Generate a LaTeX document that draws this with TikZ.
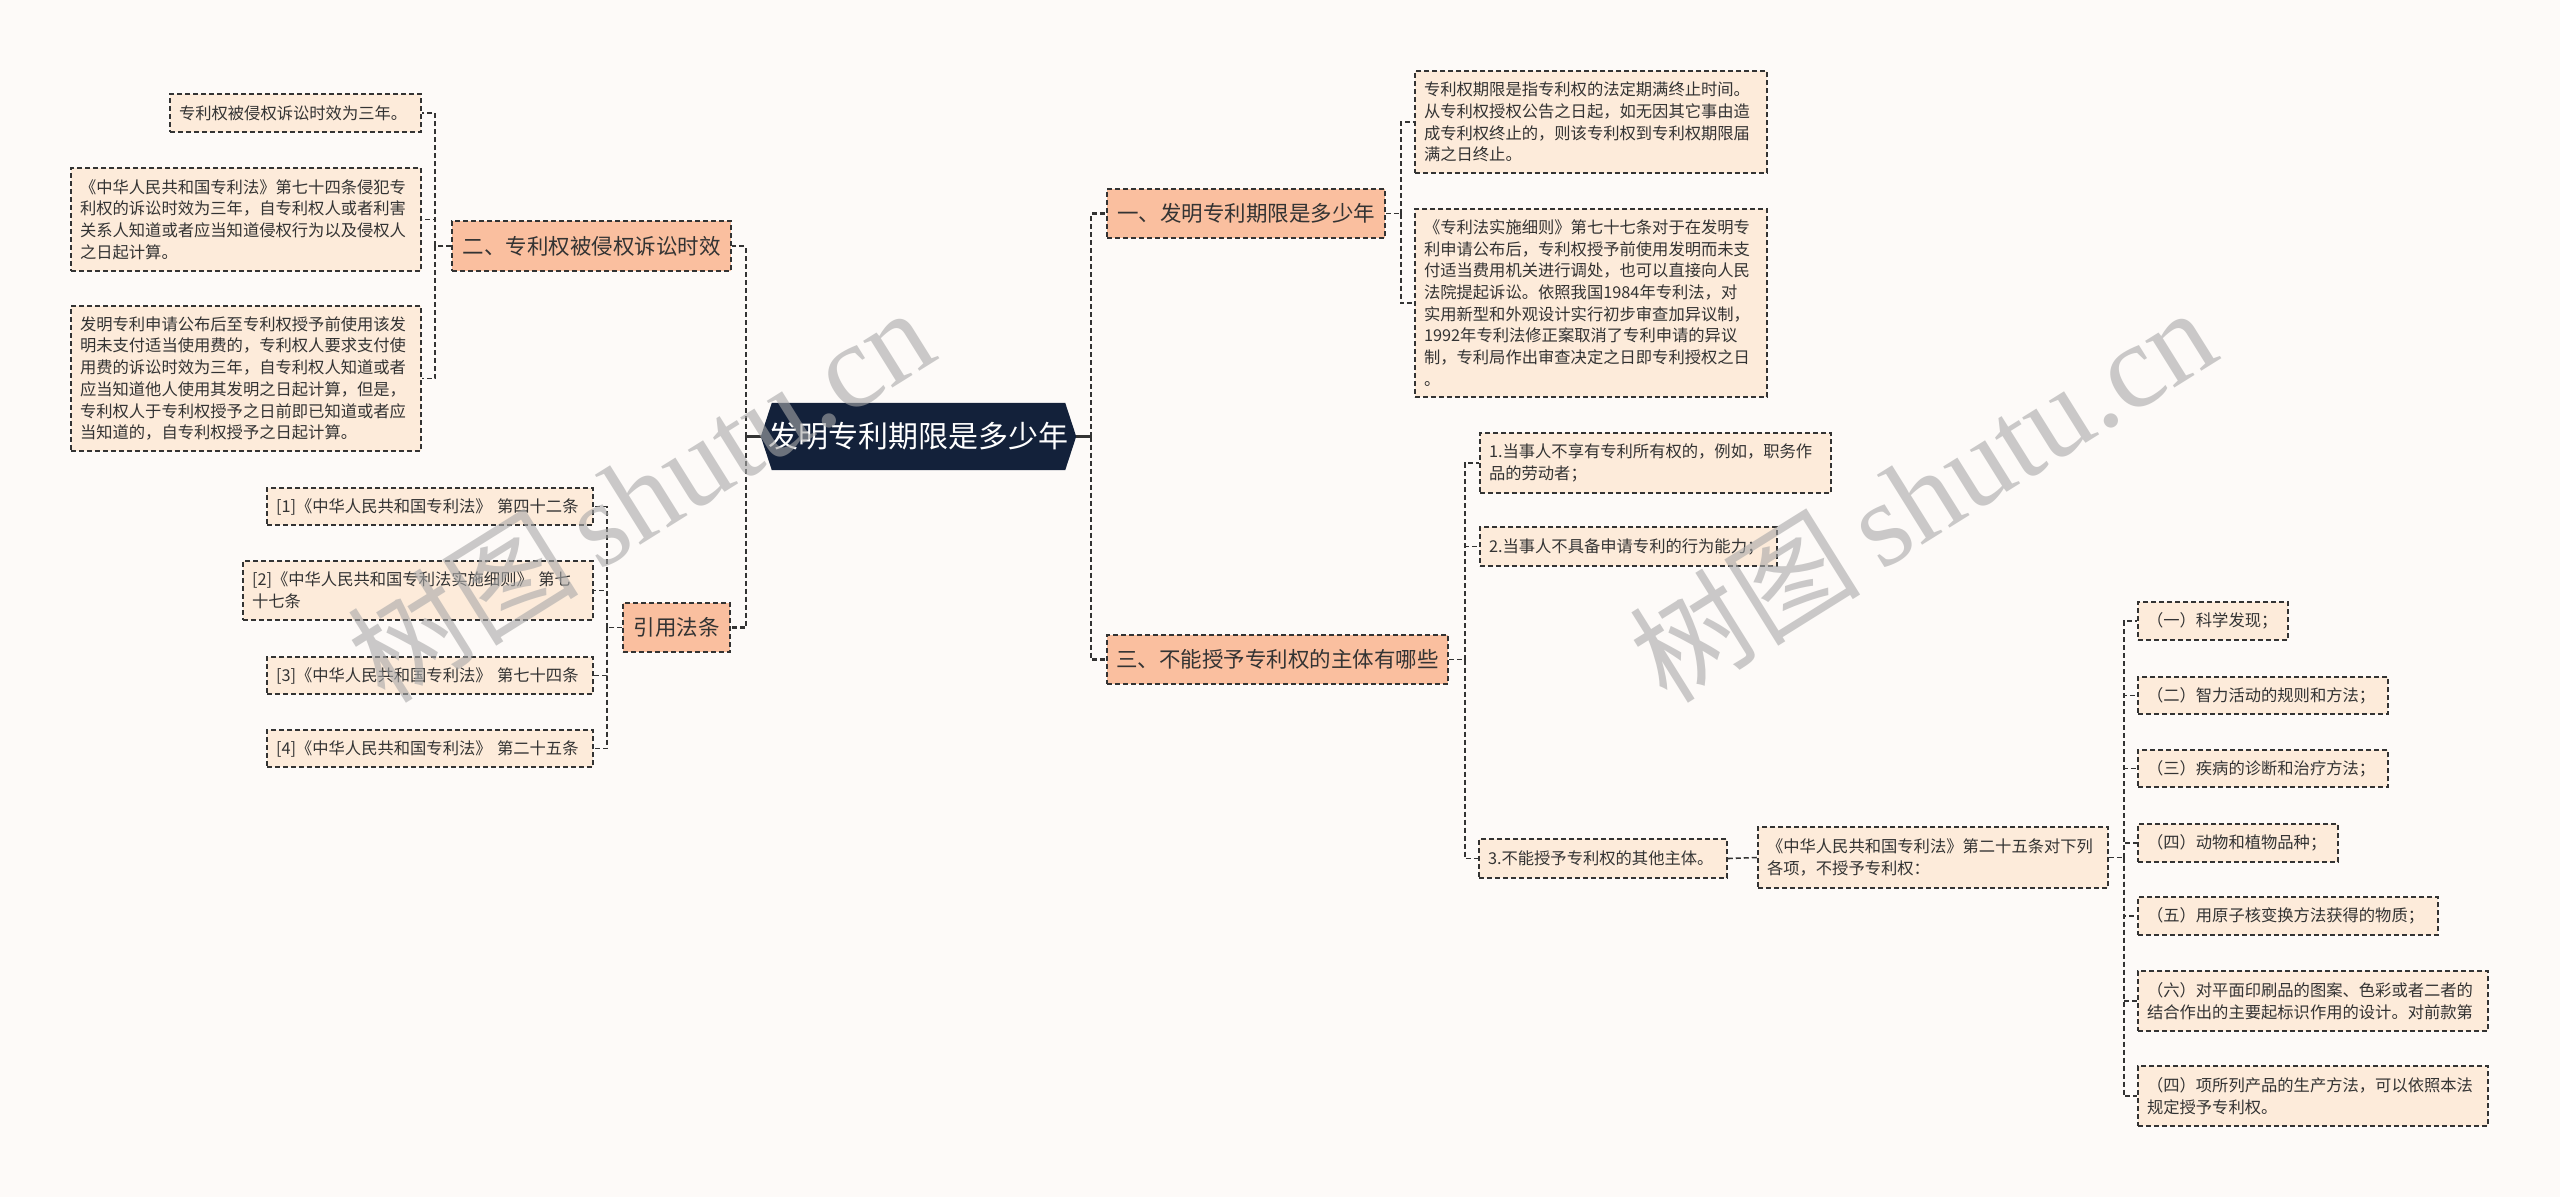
\documentclass[tikz,border=0pt]{standalone}
\usepackage{fontspec}
\setmainfont{Noto Sans CJK SC}
\newfontfamily\wmserif{Liberation Serif}
\usetikzlibrary{backgrounds}
\definecolor{bgc}{HTML}{FDFAF8}
\definecolor{navy}{HTML}{13213A}
\definecolor{peach}{HTML}{FABF9F}
\definecolor{cream}{HTML}{FDEBDA}
\definecolor{ink}{HTML}{333333}
\definecolor{wmc}{HTML}{A8A8A8}
\begin{document}
\begin{tikzpicture}[x=1pt,y=-1pt,
  box/.style={draw=ink, line width=1.5pt, dash pattern=on 5pt off 3pt, inner xsep=9pt, inner ysep=2pt, text=ink},
  leaf/.style={box, fill=cream, align=left, font=\fontsize{16.3}{21.7}\selectfont},
  topic/.style={box, fill=peach, align=center, font=\fontsize{21.5}{26}\selectfont},
  rootnode/.style={text=white, inner sep=0pt, minimum width=315pt, minimum height=67pt, font=\fontsize{30}{36}\selectfont},
  conn/.style={draw=ink, line width=1.6pt, dash pattern=on 5pt off 3pt},
  mainconn/.style={draw=ink, line width=2.2pt, dash pattern=on 5pt off 3pt},
  rootstub/.style={draw=ink, line width=2.2pt},
  wmark/.style={text=wmc, opacity=0.6, rotate=32, inner sep=0pt}
]
\useasboundingbox (0,0) rectangle (2560,1197);

% root
\node[rootnode] (root) at (918.5,436.5) {发明专利期限是多少年};

% level 1
\node[topic, text width=261pt, minimum height=50pt] (B) at (591.5,246) {二、专利权被侵权诉讼时效};
\node[topic, text width=89pt, minimum height=49pt] (D) at (676.5,627.5) {引用法条};
\node[topic, text width=260pt, minimum height=49pt] (E) at (1246,213.5) {一、发明专利期限是多少年};
\node[topic, text width=323pt, minimum height=49pt] (G) at (1277.5,659.5) {三、不能授予专利权的主体有哪些};

% left leaves
\node[leaf, text width=233pt, minimum height=38pt] (A1) at (295.5,113) {专利权被侵权诉讼时效为三年。};
\node[leaf, text width=332pt, minimum height=103pt] (A2) at (246,219.5) {《中华人民共和国专利法》第七十四条侵犯专\\利权的诉讼时效为三年，自专利权人或者利害\\关系人知道或者应当知道侵权行为以及侵权人\\之日起计算。};
\node[leaf, text width=332pt, minimum height=145pt] (A3) at (246,378.5) {发明专利申请公布后至专利权授予前使用该发\\明未支付适当使用费的，专利权人要求支付使\\用费的诉讼时效为三年，自专利权人知道或者\\应当知道他人使用其发明之日起计算，但是，\\专利权人于专利权授予之日前即已知道或者应\\当知道的，自专利权授予之日起计算。};
\node[leaf, text width=308pt, minimum height=37pt] (C1) at (430,506.5) {[1]《中华人民共和国专利法》 第四十二条};
\node[leaf, text width=332pt, minimum height=59pt] (C2) at (418,590.5) {[2]《中华人民共和国专利法实施细则》 第七\\十七条};
\node[leaf, text width=308pt, minimum height=37pt] (C3) at (430,675.5) {[3]《中华人民共和国专利法》 第七十四条};
\node[leaf, text width=308pt, minimum height=37pt] (C4) at (430,748.5) {[4]《中华人民共和国专利法》 第二十五条};

% right leaves
\node[leaf, text width=334pt, minimum height=102pt] (F1) at (1591,122) {专利权期限是指专利权的法定期满终止时间。\\从专利权授权公告之日起，如无因其它事由造\\成专利权终止的，则该专利权到专利权期限届\\满之日终止。};
\node[leaf, text width=334pt, minimum height=188pt] (F2) at (1591,303) {《专利法实施细则》第七十七条对于在发明专\\利申请公布后，专利权授予前使用发明而未支\\付适当费用机关进行调处，也可以直接向人民\\法院提起诉讼。依照我国1984年专利法，对\\实用新型和外观设计实行初步审查加异议制，\\1992年专利法修正案取消了专利申请的异议\\制，专利局作出审查决定之日即专利授权之日\\。};
\node[leaf, text width=333pt, minimum height=60pt] (H1) at (1655.5,463) {1.当事人不享有专利所有权的，例如，职务作\\品的劳动者；};
\node[leaf, text width=279pt, minimum height=39pt] (H2) at (1628.5,546.5) {2.当事人不具备申请专利的行为能力；};
\node[leaf, text width=230pt, minimum height=39pt] (H3) at (1603,858.5) {3.不能授予专利权的其他主体。};
\node[leaf, text width=332pt, minimum height=61pt] (I) at (1933,857.5) {《中华人民共和国专利法》第二十五条对下列\\各项，不授予专利权：};
\node[leaf, text width=132pt, minimum height=38pt] (J1) at (2213,621) {（一）科学发现；};
\node[leaf, text width=232pt, minimum height=37pt] (J2) at (2263,695.5) {（二）智力活动的规则和方法；};
\node[leaf, text width=232pt, minimum height=37pt] (J3) at (2263,768.5) {（三）疾病的诊断和治疗方法；};
\node[leaf, text width=182pt, minimum height=38pt] (J4) at (2238,843) {（四）动物和植物品种；};
\node[leaf, text width=282pt, minimum height=38pt] (J5) at (2288,916) {（五）用原子核变换方法获得的物质；};
\node[leaf, text width=332pt, minimum height=60pt] (J6) at (2313,1001) {（六）对平面印刷品的图案、色彩或者二者的\\结合作出的主要起标识作用的设计。对前款第};
\node[leaf, text width=332pt, minimum height=60pt] (J7) at (2313,1096) {（四）项所列产品的生产方法，可以依照本法\\规定授予专利权。};

% connectors from root
\draw[rootstub] (root.west) -- ([xshift=-15pt]root.west) coordinate (tl);
\draw[mainconn] (tl) |- (B.east);
\draw[mainconn] (tl) |- (D.east);
\draw[rootstub] (root.east) -- ([xshift=15pt]root.east) coordinate (tr);
\draw[mainconn] (tr) |- (E.west);
\draw[mainconn] (tr) |- (G.west);

% B group
\draw[conn] (B.west) -- ([xshift=-16pt]B.west) coordinate (tb);
\foreach \c in {A1,A2,A3} \draw[conn] (tb) |- (\c.east);
% D group
\draw[conn] (D.west) -- ([xshift=-15.5pt]D.west) coordinate (td);
\foreach \c in {C1,C2,C3,C4} \draw[conn] (td) |- (\c.east);
% E group
\draw[conn] (E.east) -- ([xshift=15pt]E.east) coordinate (te);
\foreach \c in {F1,F2} \draw[conn] (te) |- (\c.west);
% G group
\draw[conn] (G.east) -- ([xshift=16pt]G.east) coordinate (tg);
\foreach \c in {H1,H2,H3} \draw[conn] (tg) |- (\c.west);
% H3 -> I
\draw[conn] (H3.east) -- (I.west);
% I group
\draw[conn] (I.east) -- ([xshift=15pt]I.east) coordinate (ti);
\foreach \c in {J1,J2,J3,J4,J5,J6,J7} \draw[conn] (ti) |- (\c.west);

% watermarks
\node[wmark] (wm1) at (640,494) {\fontsize{116}{120}\selectfont 树图\hspace{20pt}{\wmserif\fontsize{120}{124}\selectfont shutu.cn}};
\node[wmark] (wm2) at (1922,494) {\fontsize{116}{120}\selectfont 树图\hspace{20pt}{\wmserif\fontsize{120}{124}\selectfont shutu.cn}};

\begin{scope}[on background layer]
\fill[bgc] (0,0) rectangle (2560,1197);
\fill[navy] (root.west) -- ([xshift=11pt]root.north west) -- ([xshift=-11pt]root.north east) -- (root.east) -- ([xshift=-11pt]root.south east) -- ([xshift=11pt]root.south west) -- cycle;
\end{scope}
\end{tikzpicture}
\end{document}
